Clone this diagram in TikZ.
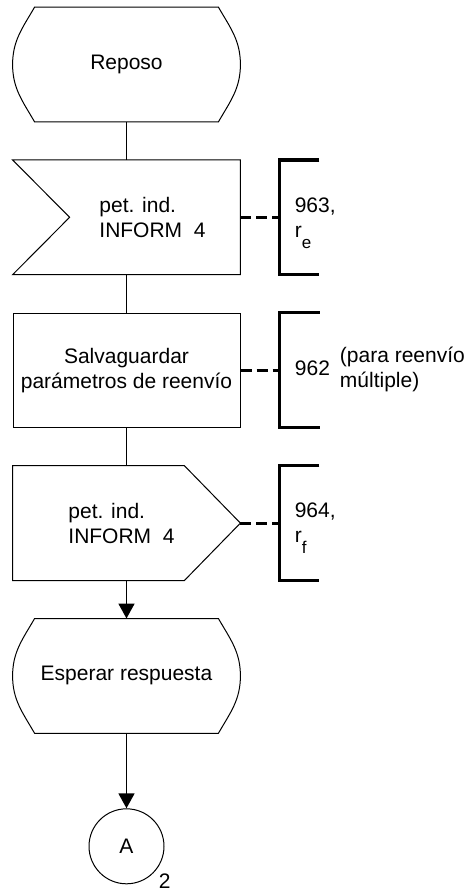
\documentclass[tikz,border=0pt]{standalone}
\usepackage{fontspec}
\setmainfont{Liberation Sans}
\usetikzlibrary{positioning, arrows.meta}
\newcommand{\sdlfont}{\fontsize{10.5pt}{12.5pt}\selectfont}
\newcommand{\lowsub}[1]{\raisebox{-5.5pt}[0pt][0pt]{\fontsize{8.5pt}{8.5pt}\selectfont #1}}

\begin{document}
\begin{tikzpicture}[
    >=Triangle, node distance=19pt,
    outline/.style={line width=0.5pt},
    base/.style={rectangle, minimum width=113.5pt, minimum height=57pt,
                 inner sep=0pt, align=center, font=\sdlfont},
    statebox/.style={base, append after command={\pgfextra{
        \draw[outline] ([xshift=11pt]\tikzlastnode.north west)
          -- ([xshift=-11pt]\tikzlastnode.north east)
          to[out=-60, in=90] (\tikzlastnode.east)
          to[out=-90, in=60] ([xshift=-11pt]\tikzlastnode.south east)
          -- ([xshift=11pt]\tikzlastnode.south west)
          to[out=120, in=-90] (\tikzlastnode.west)
          to[out=90, in=-120] ([xshift=11pt]\tikzlastnode.north west) -- cycle;}}},
    taskbox/.style={base, draw, outline},
    inbox/.style={base, append after command={\pgfextra{
        \draw[outline] (\tikzlastnode.north west) -- (\tikzlastnode.north east)
          -- (\tikzlastnode.south east) -- (\tikzlastnode.south west)
          -- ([xshift=28.5pt]\tikzlastnode.west) -- cycle;}}},
    outbox/.style={base, append after command={\pgfextra{
        \draw[outline] (\tikzlastnode.north west)
          -- ([xshift=-28pt]\tikzlastnode.north east) -- (\tikzlastnode.east)
          -- ([xshift=-28pt]\tikzlastnode.south east)
          -- (\tikzlastnode.south west) -- cycle;}}},
    sigtext/.style={align=left, inner sep=0pt, font=\sdlfont},
    cmt/.style={minimum height=57pt, inner xsep=7.5pt, inner ysep=0pt,
                align=left, font=\sdlfont, append after command={\pgfextra{
        \draw[line width=1.6pt] ([xshift=20pt]\tikzlastnode.north west)
          -- (\tikzlastnode.north west) -- (\tikzlastnode.south west)
          -- ([xshift=20pt]\tikzlastnode.south west);}}},
    conn/.style={circle, draw, outline, minimum size=37.5pt, inner sep=0pt,
                 font=\sdlfont},
    line/.style={line width=0.9pt},
    arrow/.style={-{Triangle[length=7.5pt, width=8pt]}, line width=0.9pt},
    dashline/.style={line width=1.6pt, dash pattern=on 5.5pt off 2.5pt}
]
  \useasboundingbox (0,0) rectangle (232.5pt,-445pt);

  \node[statebox] at (63.25pt,-32.25pt) (rep) {Reposo};
  \node[inbox, below=of rep] (inp) {};
  \node[sigtext] at ([xshift=13pt]inp.center) (inptxt) {pet. ind.\\INFORM\ \ 4};
  \node[taskbox, below=of inp] (sav) {Salvaguardar\\parámetros de reenvío};
  \node[outbox, below=of sav] (out) {};
  \node[sigtext] at ([xshift=-2.5pt]out.center) (outtxt) {pet. ind.\\INFORM\ \ 4};
  \node[statebox, below=of out] (esp) {Esperar respuesta};
  \node[conn, below=37.5pt of esp] (conA) {A};
  \node[font=\sdlfont, anchor=north west, inner sep=0pt, xshift=2.5pt]
    at (conA.south east) (conAnum) {2};

  % comments
  \node[cmt, right=19.5pt of inp] (c963) {963,\\r\lowsub{e}};
  \node[cmt, right=19.5pt of sav] (c962)
    {962\hspace{5pt}\begin{tabular}{@{}l@{}}(para reenvío\\múltiple)\end{tabular}};
  \node[cmt, right=19.5pt of out] (c964) {964,\\r\lowsub{f}};

  \draw[line] (rep.south) -- (inp.north);
  \draw[line] (inp.south) -- (sav.north);
  \draw[line] (sav.south) -- (out.north);
  \draw[arrow] (out.south) -- (esp.north);
  \draw[arrow] (esp.south) -- (conA.north);

  \draw[dashline] (inp.east) -- (c963.west);
  \draw[dashline] (sav.east) -- (c962.west);
  \draw[dashline] (out.east) -- (c964.west);
\end{tikzpicture}
\end{document}
